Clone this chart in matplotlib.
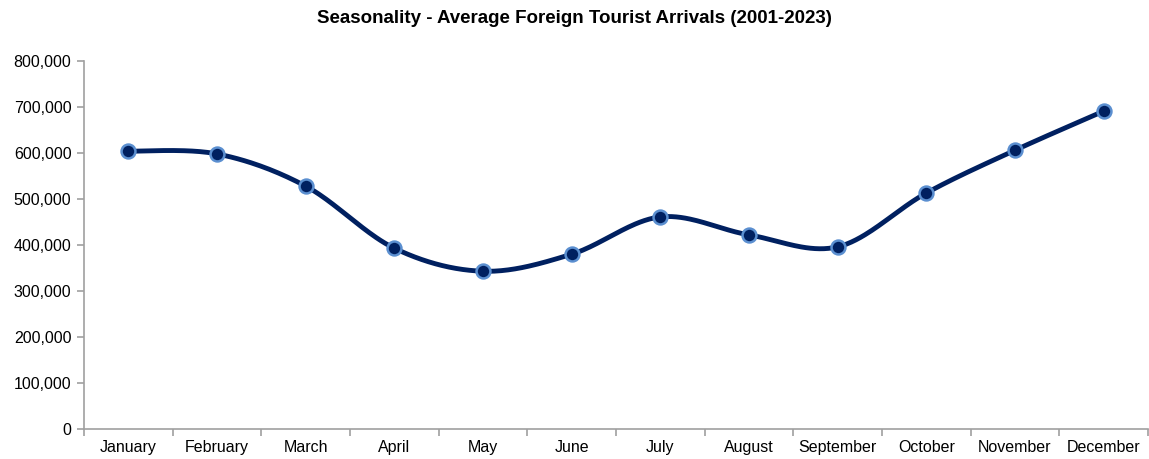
import numpy as np
import matplotlib
matplotlib.use("Agg")
import matplotlib.pyplot as plt
from matplotlib.ticker import FuncFormatter

plt.rcParams['font.family'] = ['Liberation Sans', 'DejaVu Sans']

months = ["January", "February", "March", "April", "May", "June",
          "July", "August", "September", "October", "November", "December"]
arrivals = [604000, 598000, 528000, 393000, 343000, 380000,
            461000, 422000, 396000, 513000, 606000, 691000]


def smooth(x, y, n=40):
    # Catmull-Rom style cubic Bezier through each point (like a spreadsheet "smoothed line")
    x = np.asarray(x, float)
    y = np.asarray(y, float)
    px = np.concatenate([[x[0]], x, [x[-1]]])
    py = np.concatenate([[y[0]], y, [y[-1]]])
    xs, ys = [], []
    t = np.linspace(0, 1, n)
    for i in range(len(x) - 1):
        p0 = np.array([x[i], y[i]])
        p3 = np.array([x[i + 1], y[i + 1]])
        p1 = p0 + (np.array([px[i + 2], py[i + 2]]) - np.array([px[i], py[i]])) / 6
        p2 = p3 - (np.array([px[i + 3], py[i + 3]]) - np.array([px[i + 1], py[i + 1]])) / 6
        b = ((1 - t) ** 3)[:, None] * p0 + (3 * (1 - t) ** 2 * t)[:, None] * p1 \
            + (3 * (1 - t) * t ** 2)[:, None] * p2 + (t ** 3)[:, None] * p3
        xs.extend(b[:, 0])
        ys.extend(b[:, 1])
    return np.array(xs), np.array(ys)


fig = plt.figure(figsize=(11.49, 4.59), dpi=100)
ax = fig.add_axes([84 / 1149, 1 - 429 / 459, 1064 / 1149, 368 / 459])

x = np.arange(len(months))
sx, sy = smooth(x, arrivals)
ax.plot(sx, sy, color="#002060", lw=3.5, solid_capstyle="round", zorder=2)
ax.plot(x, arrivals, ls="none", marker="o", ms=10, mfc="#002060",
        mec="#5b8fd0", mew=1.8, zorder=3)

ax.set_xlim(-0.5, len(months) - 0.5)
ax.set_ylim(0, 800000)
ax.set_yticks(np.arange(0, 800001, 100000))
ax.yaxis.set_major_formatter(FuncFormatter(lambda v, _: f"{int(v):,}"))
ax.set_xticks(x)
ax.set_xticklabels(months)
ax.set_xticks(np.arange(-0.5, len(months), 1), minor=True)

for s in ("top", "right"):
    ax.spines[s].set_visible(False)
for s in ("left", "bottom"):
    ax.spines[s].set_color("#a0a0a0")
    ax.spines[s].set_linewidth(1.2)

ax.tick_params(axis="y", length=5, color="#a0a0a0", labelsize=11.5, pad=4, width=1.2)
ax.tick_params(axis="x", which="major", length=0, labelsize=11.5, pad=8)
ax.tick_params(axis="x", which="minor", length=5, color="#a0a0a0", width=1.2)

fig.suptitle("Seasonality - Average Foreign Tourist Arrivals (2001-2023)",
             x=0.5, y=1 - 10 / 459, fontsize=13.5, fontweight="bold")

fig.savefig("out.png", dpi=100)
